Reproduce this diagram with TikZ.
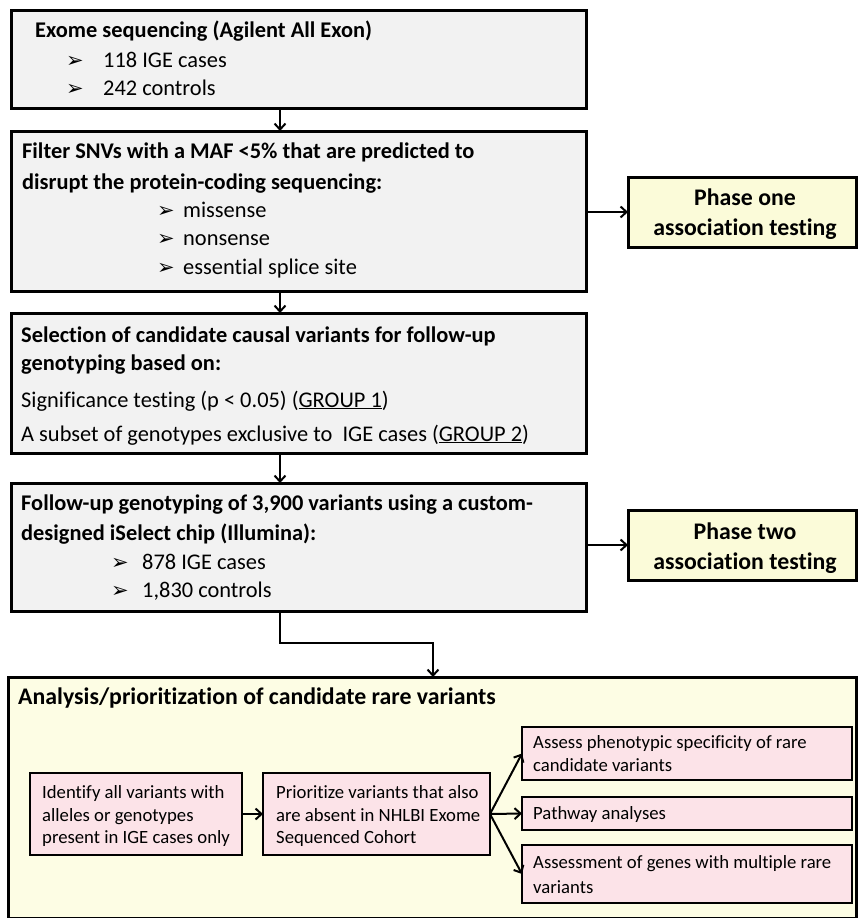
\documentclass[tikz,border=0pt]{standalone}
\usepackage{fontspec}
\setmainfont{Carlito}[Ligatures=NoCommon]
\newfontfamily\dvfont{DejaVu Sans}
\usetikzlibrary{arrows.meta,calc}
\definecolor{boxgray}{HTML}{F2F2F2}
\definecolor{phaseyel}{HTML}{FBFBD9}
\definecolor{bigyel}{HTML}{FDFDE4}
\definecolor{pinkbox}{HTML}{FCE3E8}
\newcommand{\bul}{{\dvfont\fontsize{21}{21}\selectfont ➢}}
\begin{document}
\begin{tikzpicture}[x=1pt,y=-1pt,
  box/.style={draw=black,line width=3pt,anchor=north west,inner sep=0pt,outer sep=0pt},
  graybox/.style={box,fill=boxgray},
  phasebox/.style={box,fill=phaseyel},
  bigbox/.style={box,fill=bigyel},
  pbox/.style={box,line width=2.8pt,fill=pinkbox},
  txt/.style={anchor=base west,inner sep=0pt,font=\fontsize{22.4}{26}\selectfont},
  btxt/.style={anchor=base west,inner sep=0pt,font=\fontsize{22.4}{26}\selectfont\bfseries},
  ctxt/.style={anchor=base,inner sep=0pt,font=\fontsize{23.8}{28}\selectfont\bfseries},
  ptxt/.style={anchor=base west,inner sep=0pt,font=\fontsize{18.7}{22}\selectfont},
  bulnode/.style={anchor=base west,inner sep=0pt},
  arr/.style={line width=2pt,-{Straight Barb[length=6pt,width=11pt,line width=2pt]}}
]
\useasboundingbox (0,0) rectangle (857,918);
% main boxes
\node[graybox,minimum width=575,minimum height=98] (b1) at (11,10) {};
\node[graybox,minimum width=575,minimum height=160] (b2) at (11,131) {};
\node[graybox,minimum width=575,minimum height=140] (b3) at (11,313) {};
\node[graybox,minimum width=575,minimum height=128] (b4) at (11,483) {};
\node[phasebox,minimum width=228,minimum height=70] (p1) at (628,177) {};
\node[phasebox,minimum width=228,minimum height=70] (p2) at (628,510) {};
\node[bigbox,minimum width=848,minimum height=241] (b5) at (8,677) {};
\node[pbox,minimum width=212,minimum height=82] (ia) at (30,773) {};
\node[pbox,minimum width=227,minimum height=82] (ib) at (263,773) {};
\node[pbox,minimum width=330,minimum height=53] (c1) at (522,727) {};
\node[pbox,minimum width=330,minimum height=33] (c2) at (522,797) {};
\node[pbox,minimum width=330,minimum height=58] (c3) at (522,845) {};
% box 1 text
\node[btxt] (t11) at (35,37) {Exome sequencing (Agilent All Exon)};
\node[bulnode] (u11) at (66,67) {\bul};
\node[txt] (t12) at (103,67) {118 IGE cases};
\node[bulnode] (u12) at (66,95) {\bul};
\node[txt] (t13) at (103,95) {242 controls};
% box 2 text
\node[btxt] (t21) at (22,158) {Filter SNVs with a MAF <5\% that are predicted to};
\node[btxt] (t22) at (22,189) {disrupt the protein-coding sequencing:};
\node[bulnode] (u21) at (157,217) {\bul};
\node[txt] (t23) at (183,217) {missense};
\node[bulnode] (u22) at (157,245) {\bul};
\node[txt] (t24) at (183,245) {nonsense};
\node[bulnode] (u23) at (157,274) {\bul};
\node[txt] (t25) at (183,274) {essential splice site};
% box 3 text
\node[btxt] (t31) at (21,342) {Selection of candidate causal variants for follow-up};
\node[btxt] (t32) at (21,370) {genotyping based on:};
\node[txt] (t33) at (21,407) {Significance testing (p < 0.05) (\underline{GROUP 1})};
\node[txt] (t34) at (21,441) {A subset of genotypes exclusive to~ IGE cases (\underline{GROUP 2})};
% box 4 text
\node[btxt] (t41) at (21,510) {Follow-up genotyping of 3,900 variants using a custom-};
\node[btxt] (t42) at (21,540) {designed iSelect chip (Illumina):};
\node[bulnode] (u41) at (111,569) {\bul};
\node[txt] (t43) at (142,569) {878 IGE cases};
\node[bulnode] (u42) at (111,597) {\bul};
\node[txt] (t44) at (142,597) {1,830 controls};
% phase boxes
\node[ctxt] (tp11) at (745,205) {Phase one};
\node[ctxt] (tp12) at (745,235) {association testing};
\node[ctxt] (tp21) at (745,539) {Phase two};
\node[ctxt] (tp22) at (745,569) {association testing};
% big box text
\node[btxt,font=\fontsize{23.8}{28}\selectfont\bfseries] (t51) at (18,704) {Analysis/prioritization of candidate rare variants};
\node[ptxt] (ta1) at (42,798) {Identify all variants with};
\node[ptxt] (ta2) at (42,821) {alleles or genotypes};
\node[ptxt] (ta3) at (42,843) {present in IGE cases only};
\node[ptxt] (tb1) at (276,798) {Prioritize variants that also};
\node[ptxt] (tb2) at (276,821) {are absent in NHLBI Exome};
\node[ptxt] (tb3) at (276,843) {Sequenced Cohort};
\node[ptxt] (tc11) at (533,748) {Assess phenotypic specificity of rare};
\node[ptxt] (tc12) at (533,771) {candidate variants};
\node[ptxt] (tc21) at (533,819) {Pathway analyses};
\node[ptxt] (tc31) at (533,868) {Assessment of genes with multiple rare};
\node[ptxt] (tc32) at (533,893) {variants};
% connectors
\draw[arr] (280,0 |- b1.south) -- (280,0 |- b2.north);
\draw[arr] (280,0 |- b2.south) -- (280,0 |- b3.north);
\draw[arr] (280,0 |- b3.south) -- (280,0 |- b4.north);
\draw[arr] (b2.east |- p1.west) -- (p1.west);
\draw[arr] (b4.east |- p2.west) -- (p2.west);
\coordinate (k1) at (280,643);
\coordinate (k2) at (433,643);
\draw[arr] (280,0 |- b4.south) -- (k1) -- (k2) -- (433,0 |- b5.north);
\draw[arr] (ia.east) -- (ib.west);
\draw[arr] (ib.east) -- (c1.west);
\draw[arr] (ib.east) -- (c2.west);
\draw[arr] (ib.east) -- (c3.west);
\end{tikzpicture}
\end{document}
